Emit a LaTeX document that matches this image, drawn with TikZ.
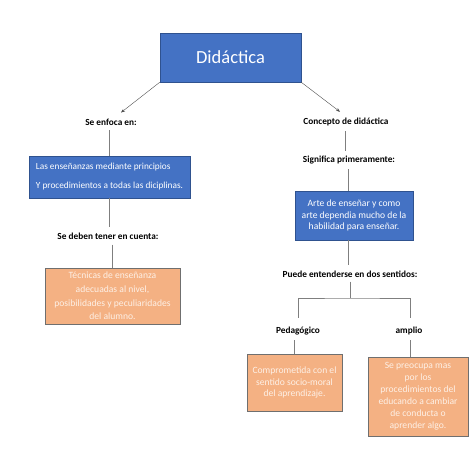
\documentclass[tikz,border=0pt]{standalone}
\usepackage{fontspec}
\setmainfont{Carlito}
\usepackage{tikz}
\usetikzlibrary{arrows.meta}
\usetikzlibrary{calc}

\definecolor{boxblue}{HTML}{4472C4}
\definecolor{boxblueline}{HTML}{2F528F}
\definecolor{boxorange}{HTML}{F4B183}
\definecolor{boxorangeline}{HTML}{6F6F6F}
\definecolor{lightext}{HTML}{FDF0E6}
\definecolor{edgegray}{HTML}{7F7F7F}

\begin{document}
\begin{tikzpicture}[x=1pt, y=-1pt,
        title_style/.style={rectangle,draw=boxblueline,fill=boxblue,text=white,minimum width=141pt,minimum height=49pt,font=\fontsize{18.5}{22}\selectfont},
        blue_box_style/.style={rectangle,draw=boxblueline,fill=boxblue,text=white,inner sep=2pt,font=\fontsize{9.6}{11.5}\selectfont},
        orange_box_style/.style={rectangle,draw=boxorangeline,fill=boxorange,text=lightext,inner sep=2pt,font=\fontsize{9.6}{12}\selectfont},
        label_style/.style={font=\fontsize{9.3}{11}\selectfont\bfseries,inner sep=1pt},
        edge_style/.style={draw=edgegray, thin},
        arrow_style/.style={draw=black!70, thin, -{Stealth[length=4pt,width=3pt]}}]

        \useasboundingbox (0,0) rectangle (474,456);

        % raiz
        \node [title_style](dida) at (230.5,57.5) {Didáctica};

        % rama izquierda
        \node [label_style](enfoca) at (111,122) {Se enfoca en:};

        \node [blue_box_style,minimum width=161pt,minimum height=42pt,align=left,font=\fontsize{9.3}{11}\selectfont](ens) at (109.5,177)
            {Las enseñanzas mediante principios\\[8pt]Y procedimientos a todas las diciplinas.};

        \node [label_style](deben) at (108,236) {Se deben tener en cuenta:};

        \node [orange_box_style,minimum width=135pt,minimum height=56pt,align=center,font=\fontsize{9.6}{13.7}\selectfont](tec) at (112.5,296)
            {Técnicas de enseñanza\\adecuadas al nivel,\\posibilidades y peculiaridades\\del alumno.};

        % rama derecha
        \node [label_style](concepto) at (346,122) {Concepto de didáctica};

        \node [label_style](signif) at (349,160) {Significa primeramente:};

        \node [blue_box_style,minimum width=118pt,minimum height=49pt,align=center](arte) at (354,215.5)
            {Arte de enseñar y como\\arte dependia mucho de la\\habilidad para enseñar.};

        \node [label_style](puede) at (350,274) {Puede entenderse en dos sentidos:};

        \node [label_style](ped) at (298,331) {Pedagógico};

        \node [label_style](amp) at (409,331) {amplio};

        \node [orange_box_style,minimum width=95pt,minimum height=57pt,align=center,font=\fontsize{9.6}{11.2}\selectfont](comp) at (294.5,382.5)
            {Comprometida con el\\sentido socio-moral\\del aprendizaje.};

        \node [orange_box_style,minimum width=100pt,minimum height=79pt,align=center](preoc) at (418,396.5)
            {Se preocupa mas\\por los\\procedimientos del\\educando a cambiar\\de conducta o\\aprender algo.};

        \coordinate (split) at (350,298);

        \draw [arrow_style] (dida.south west) -- ($(enfoca.north)+(10,-5)$);

        \draw [arrow_style] (dida.south east) -- ($(concepto.north)+(-6,-5)$);

        \draw [edge_style] ($(ens.north |- enfoca.south)+(0,4)$) -- (ens.north);

        \draw [edge_style] (ens.south) -- ($(ens.south |- deben.north)+(0,-5)$);

        \draw [edge_style] ($(tec.north |- deben.south)+(0,4)$) -- (tec.north);

        \draw [edge_style] ($(concepto.south)+(-1,4)$) -- ($(concepto.south |- signif.north)+(-1,-4)$);

        \draw [edge_style] ($(arte.north |- signif.south)+(-6,4)$) -- ($(arte.north)+(-6,0)$);

        \draw [edge_style] ($(arte.south)+(-6,0)$) -- ($(arte.south |- puede.north)+(-6,-5)$);

        \draw [edge_style] ($(puede.south)+(0,3)$) -- (split);

        \draw [edge_style] ($(ped.north)+(0,-8)$) |- (split) -| ($(amp.north)+(1,-8)$);

        \draw [edge_style] ($(comp.north |- ped.south)+(0,4)$) -- (comp.north);

        \draw [edge_style] ($(amp.south)+(1,4)$) -- ($(amp.south |- preoc.north)+(1,0)$);

        \end{tikzpicture}
\end{document}
